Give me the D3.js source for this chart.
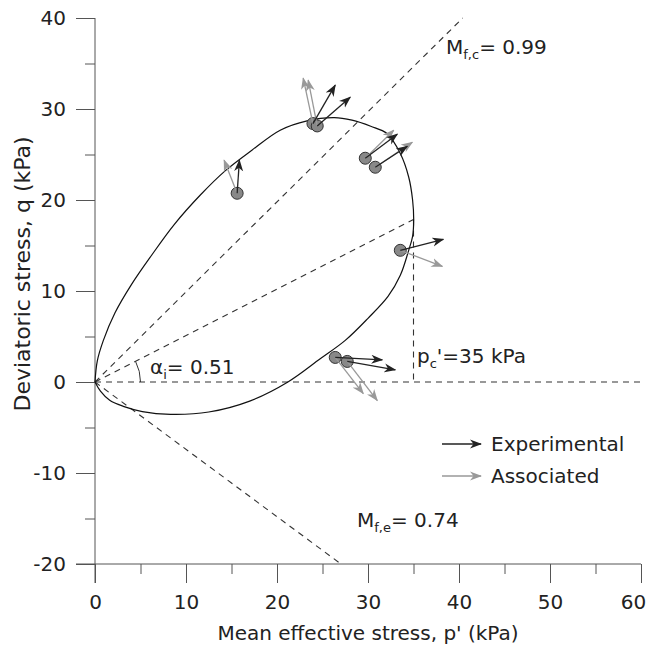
<!DOCTYPE html>
<meta charset="utf-8">
<html>
  <head>
    <script src="https://cdn.jsdelivr.net/npm/d3@7"></script>
    <style>
      body { margin: 0; background: #fff; font-family: "DejaVu Sans", Verdana, sans-serif; }
      .axis text { font-size: 20px; fill: #222; font-family: "DejaVu Sans", Verdana, sans-serif; }
      .axis path, .axis line { stroke: #555; }
      .label { font-size: 20px; fill: #222; }
      .dash { fill: none; stroke: #333; stroke-width: 1.1; stroke-dasharray: 6,5; }
    </style>
  </head>
  <body>
    <svg id="chart" width="652" height="648"></svg>
    <script>
      // tick values
      const xTicks = [0, 10, 20, 30, 40, 50, 60];
      const xMinor = [5, 15, 25, 35, 45, 55];
      const yTicks = [-20, -10, 0, 10, 20, 30, 40];
      const yMinor = [-15, -5, 5, 15, 25, 35];

      // model parameters
      const Mfc = 0.99, Mfe = 0.74, alphaI = 0.51, pc = 35;

      // yield surface (p', q)
      const yieldCurve = [
        [0, 0], [0.25, 2.3], [0.92, 4.57], [2.2, 7.6], [4.0, 10.7], [6.2, 13.9],
        [8.7, 17.3], [11.55, 20.52], [14.3, 23.2], [17.24, 25.47], [20.35, 27.67],
        [23.3, 28.7], [26.3, 29.05], [28.24, 28.77], [30.3, 28.1], [32.09, 27.3],
        [33.55, 25.1], [34.47, 22.53], [34.9, 20.0], [35.02, 17.8], [34.9, 16.0],
        [34.47, 14.47], [33.55, 11.72], [32.2, 9.4], [30.0, 7.0], [27.5, 4.57],
        [24.75, 2.55], [21.2, 0], [17.0, -2.1], [12.5, -3.3], [8.3, -3.55],
        [5.2, -3.25], [3.2, -2.7], [1.65, -2.04], [0.6, -1.0], [0, 0]
      ];

      // stress points
      const points = [
        [15.62, 20.74], [23.95, 28.4], [24.42, 28.14], [29.7, 24.59],
        [30.8, 23.6], [33.55, 14.47], [26.4, 2.7], [27.72, 2.26]
      ];
      // arrow tips, same order as points
      const experimental = [
        [15.87, 24.37], [26.4, 32.62], [28.05, 31.3], [33.22, 27.23],
        [34.32, 25.9], [38.28, 15.68], [31.57, 2.44], [33.0, 1.34]
      ];
      const associated = [
        [14.19, 24.37], [22.88, 33.39], [23.43, 33.17], [32.83, 27.67],
        [34.87, 26.35], [38.17, 12.71], [29.48, -1.27], [31.02, -2.04]
      ];

      const legendItems = ["Experimental", "Associated"];
      const arrowColors = ["#222", "#999"];

      const svg = d3.select("#chart");
      const x = d3.scaleLinear().domain([0, 60]).range([95, 641]);
      const y = d3.scaleLinear().domain([-20, 40]).range([564, 18]);

      // markers
      const defs = svg.append("defs");
      arrowColors.forEach((c, i) => {
        defs.append("marker")
          .attr("id", "arr" + i)
          .attr("viewBox", "0 -5 12 10")
          .attr("refX", 11).attr("refY", 0)
          .attr("markerWidth", 12).attr("markerHeight", 10)
          .attr("markerUnits", "userSpaceOnUse")
          .attr("orient", "auto")
          .append("path")
          .attr("d", "M0,-4.5L12,0L0,4.5L3.5,0Z")
          .attr("fill", c);
      });

      // axes
      const fmt = d => String(d);
      svg.append("g").attr("class", "axis")
        .attr("transform", `translate(${x(0)},0)`)
        .call(d3.axisLeft(y).tickValues(yTicks).tickFormat(fmt).tickSize(19).tickSizeOuter(0).tickPadding(10))
        .call(g => g.select(".domain").attr("d", `M0,${y(40)}V${y(-20) + 19}`));
      svg.append("g").attr("class", "axis")
        .attr("transform", `translate(${x(0)},0)`)
        .call(d3.axisLeft(y).tickValues(yMinor).tickSize(10).tickFormat(""))
        .call(g => g.select(".domain").remove());
      svg.append("g").attr("class", "axis")
        .attr("transform", `translate(0,${y(-20)})`)
        .call(d3.axisBottom(x).tickValues(xTicks).tickFormat(fmt).tickSize(19).tickSizeOuter(0).tickPadding(12))
        .call(g => g.select(".domain").attr("d", `M${x(0) - 19},0H${x(60)}`))
        .call(g => g.selectAll(".tick text").filter(d => d === 60).attr("dx", -8));
      svg.append("g").attr("class", "axis")
        .attr("transform", `translate(0,${y(-20)})`)
        .call(d3.axisBottom(x).tickValues(xMinor).tickSize(10).tickFormat(""))
        .call(g => g.select(".domain").remove());

      svg.append("text").attr("class", "label")
        .attr("x", (x(0) + x(60)) / 2).attr("y", 640)
        .attr("text-anchor", "middle")
        .text("Mean effective stress, p' (kPa)");
      svg.append("text").attr("class", "label")
        .attr("transform", `translate(30,274) rotate(-90)`)
        .attr("text-anchor", "middle")
        .style("font-size", "22px")
        .text("Deviatoric stress, q (kPa)");

      // dashed reference lines
      const line = d3.line().x(d => x(d[0])).y(d => y(d[1]));
      const dashed = [
        [[0, 0], [60, 0]],
        [[0, 0], [40 / Mfc, 40]],
        [[0, 0], [20 / Mfe, -20]],
        [[0, 0], [pc, alphaI * pc]],
        [[pc, alphaI * pc], [pc, 0]]
      ];
      svg.append("g").selectAll("path").data(dashed).join("path")
        .attr("class", "dash").attr("d", line);

      // alpha arc
      const ang = Math.atan2(y(0) - y(alphaI * pc), x(pc) - x(0));
      const ap = d3.path();
      ap.arc(x(0), y(0), 45.5, 0, -ang, true);
      svg.append("path").attr("d", ap.toString())
        .attr("fill", "none").attr("stroke", "#333").attr("stroke-width", 1);

      // yield surface
      svg.append("path").datum(yieldCurve)
        .attr("d", d3.line().x(d => x(d[0])).y(d => y(d[1])).curve(d3.curveCatmullRom.alpha(0.5)))
        .attr("fill", "none").attr("stroke", "#111").attr("stroke-width", 1.2);

      // points
      svg.append("g").selectAll("circle").data(points).join("circle")
        .attr("cx", d => x(d[0])).attr("cy", d => y(d[1])).attr("r", 6)
        .attr("fill", "#888").attr("stroke", "#333").attr("stroke-width", 1);

      // arrows
      [associated, experimental].forEach(tips => {
        const i = tips === experimental ? 0 : 1;
        svg.append("g").selectAll("line").data(tips).join("line")
          .attr("x1", (d, k) => x(points[k][0])).attr("y1", (d, k) => y(points[k][1]))
          .attr("x2", d => x(d[0])).attr("y2", d => y(d[1]))
          .attr("stroke", arrowColors[i]).attr("stroke-width", 1.3)
          .attr("marker-end", `url(#arr${i})`);
      });

      // annotations
      function sub(t, main, s, rest) {
        t.append("tspan").text(main);
        t.append("tspan").attr("font-size", 13).attr("dy", 5).text(s);
        t.append("tspan").attr("dy", -5).text(rest);
      }
      sub(svg.append("text").attr("class", "label").attr("x", 446).attr("y", 54), "M", "f,c", "= 0.99");
      sub(svg.append("text").attr("class", "label").attr("x", 357).attr("y", 527), "M", "f,e", "= 0.74");
      sub(svg.append("text").attr("class", "label").attr("x", 150).attr("y", 374), "α", "i", "= 0.51");
      sub(svg.append("text").attr("class", "label").attr("x", 417).attr("y", 363), "p", "c", "'=35 kPa");

      // legend
      const leg = svg.append("g").attr("transform", "translate(442,444)");
      legendItems.forEach((name, i) => {
        const r = leg.append("g").attr("transform", `translate(0,${i * 32})`);
        r.append("line").attr("x1", 0).attr("x2", 39).attr("y1", 0).attr("y2", 0)
          .attr("stroke", arrowColors[i]).attr("stroke-width", 1.3)
          .attr("marker-end", `url(#arr${i})`);
        r.append("text").attr("class", "label").attr("x", 49).attr("y", 7).text(name);
      });
    </script>
  </body>
</html>
